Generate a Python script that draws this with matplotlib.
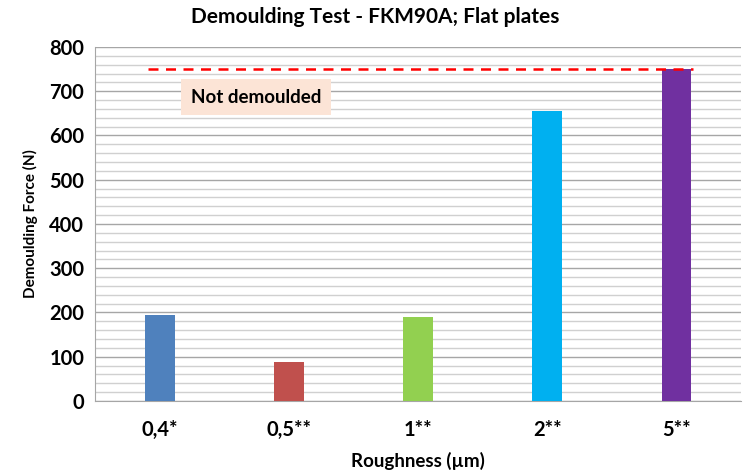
import matplotlib.pyplot as plt
from matplotlib.ticker import MultipleLocator

categories = ['0,4*', '0,5**', '1**', '2**', '5**']
forces = [194, 88, 190, 655, 750]
colors = ['#4f81bd', '#c0504d', '#92d050', '#00b0f0', '#7030a0']
limit = 750

plt.rcParams['font.family'] = ['Lato', 'DejaVu Sans']
plt.rcParams['font.weight'] = 'bold'

fig = plt.figure(figsize=(7.5, 4.75), dpi=100)
ax = fig.add_axes([0.127, 0.156, 0.861, 0.745])

x = range(len(categories))
ax.bar(x, forces, width=0.23, color=colors, zorder=3)

# not demoulded limit
ax.plot([-0.09, 4.13], [limit, limit], color='#ff0000', linestyle=(0, (4, 3)), linewidth=1.8, zorder=4)
ax.text(0.24, 687, 'Not demoulded', fontsize=13.5, fontweight='bold', va='center', ha='left',
        bbox=dict(boxstyle='square,pad=0.5', facecolor='#fce4d6', edgecolor='none'), zorder=5)

ax.set_xlim(-0.5, 4.5)
ax.set_ylim(0, 800)
ax.yaxis.set_major_locator(MultipleLocator(100))
ax.yaxis.set_minor_locator(MultipleLocator(20))
ax.grid(axis='y', which='major', color='#a6a6a6', linewidth=1.0, zorder=0)
ax.grid(axis='y', which='minor', color='#d0d0d0', linewidth=1.0, zorder=0)
ax.set_axisbelow(True)

ax.set_xticks(list(x))
ax.set_xticklabels(categories, fontsize=14.5, fontweight='bold')
for lab in ax.get_yticklabels():
    lab.set_fontsize(14.5)
    lab.set_fontweight('bold')
ax.tick_params(axis='x', length=0, pad=14)
ax.tick_params(axis='y', which='both', length=0, pad=8)

for s in ['top', 'right']:
    ax.spines[s].set_visible(False)
ax.spines['left'].set_color('#a6a6a6')
ax.spines['bottom'].set_color('#a6a6a6')

ax.set_xlabel('Roughness (µm)', fontsize=13.5, fontweight='bold', labelpad=8)
ax.set_ylabel('Demoulding Force (N)', fontsize=11, fontweight='bold', labelpad=8)
fig.suptitle('Demoulding Test - FKM90A; Flat plates', fontsize=15, fontweight='bold', y=0.985)

fig.savefig('out.png', dpi=100)
